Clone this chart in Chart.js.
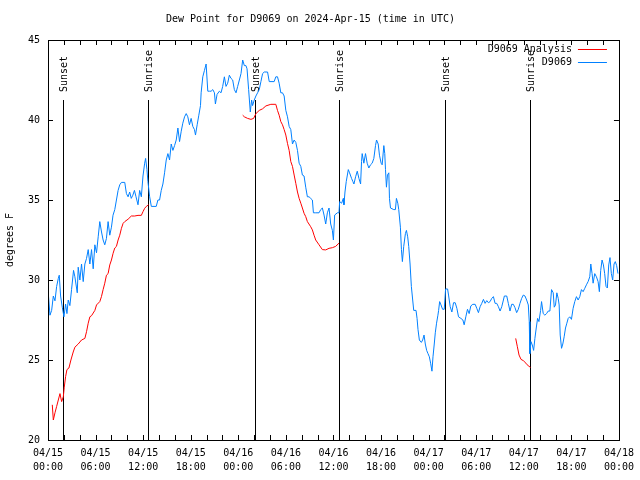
<!DOCTYPE html>
<html>
<head>
<meta charset="utf-8">
<script src="https://cdn.jsdelivr.net/npm/chart.js@4.4.1/dist/chart.umd.min.js"></script>
<style>
  html, body { margin: 0; padding: 0; background: #fff; }
  canvas { display: block; }
</style>
</head>
<body>
<canvas id="dew" width="640" height="480"></canvas>
<script>
// hours since 04/15 00:00 UTC
const blueHours = [
  0.0, 0.25, 0.46, 0.67, 0.88, 1.09, 1.30, 1.42, 1.59, 1.80, 2.01, 2.22, 2.39, 2.55, 2.76, 2.97,
  3.22, 3.39, 3.69, 3.81, 4.02, 4.23, 4.44, 4.65, 4.86, 5.07, 5.28, 5.49, 5.70, 5.91, 6.12, 6.33,
  6.53, 6.75, 6.95, 7.16, 7.37, 7.58, 7.79, 8.00, 8.20, 8.42, 8.63, 8.84, 9.05, 9.26, 9.68, 9.89,
  10.1, 10.3, 10.5, 10.7, 10.9, 11.1, 11.35, 11.56, 11.77, 11.98, 12.19, 12.31, 12.48, 12.6, 12.82,
  13.03, 13.65, 13.86, 14.07, 14.28, 14.49, 14.70, 14.91, 15.12, 15.33, 15.54, 15.75, 15.96, 16.17,
  16.38, 16.59, 16.80, 17.0, 17.22, 17.43, 17.63, 17.84, 18.05, 18.26, 18.47, 18.6, 18.81, 19.02,
  19.23, 19.31, 19.52, 19.73, 19.94, 20.15, 20.36, 20.57, 20.78, 20.99, 21.11, 21.32, 21.61, 21.82,
  22.03, 22.24, 22.45, 22.66, 22.87, 23.08, 23.29, 23.5, 23.71, 23.92, 24.13, 24.34, 24.55, 24.76,
  24.96, 25.1, 25.3, 25.51, 25.68, 25.8, 26.01, 26.22, 26.43, 26.64, 26.85, 27.06, 27.27, 27.69,
  27.9, 28.52, 28.73, 28.94, 29.15, 29.36, 29.57, 29.78, 29.99, 30.2, 30.41, 30.62, 30.83, 31.04,
  31.25, 31.46, 31.67, 31.88, 32.08, 32.29, 32.5, 32.71, 32.92, 33.13, 33.34, 33.47, 33.76, 34.18,
  34.39, 34.6, 34.81, 35.02, 35.23, 35.44, 35.65, 35.86, 35.99, 36.15, 36.49, 36.69, 36.78, 37.03,
  37.24, 37.32, 37.45, 37.61, 37.87, 38.03, 38.28, 38.45, 38.58, 38.79, 39.0, 39.21, 39.42, 39.54,
  39.62, 39.83, 40.04, 40.25, 40.46, 40.67, 40.88, 41.09, 41.3, 41.43, 41.64, 41.8, 42.01, 42.14,
  42.35, 42.47, 42.56, 42.68, 42.81, 42.98, 43.06, 43.19, 43.6, 43.81, 43.94, 44.11, 44.23, 44.44,
  44.57, 44.69, 44.86, 45.07, 45.2, 45.36, 45.49, 45.66, 45.82, 45.99, 46.12, 46.41, 46.54, 46.66,
  46.83, 47.08, 47.25, 47.42, 47.58, 47.75, 47.92, 48.09, 48.25, 48.42, 48.55, 48.71, 48.84, 49.0,
  49.17, 49.26, 49.39, 49.56, 49.76, 49.97, 50.14, 50.39, 50.51, 50.72, 50.93, 51.14, 51.35, 51.56,
  51.77, 52.07, 52.32, 52.48, 52.69, 52.9, 53.11, 53.32, 53.57, 53.87, 54.07, 54.28, 54.49, 54.7,
  54.91, 55.12, 55.33, 55.54, 55.75, 55.96, 56.17, 56.38, 56.59, 56.8, 57.01, 57.22, 57.43, 57.55,
  57.85, 58.05, 58.26, 58.47, 58.68, 58.89, 59.1, 59.31, 59.52, 59.73, 59.94, 60.15, 60.36, 60.57,
  60.69, 60.75, 60.78, 60.9, 61.07, 61.24, 61.4, 61.57, 61.74, 61.91, 62.12, 62.24, 62.45, 62.66,
  62.87, 63.08, 63.29, 63.5, 63.71, 63.84, 64.0, 64.17, 64.34, 64.46, 64.59, 64.76, 64.92, 65.09,
  65.26, 65.43, 65.6, 65.8, 66.01, 66.22, 66.43, 66.64, 66.85, 67.06, 67.27, 67.48, 67.69, 67.9,
  68.11, 68.32, 68.45, 68.61, 68.74, 68.95, 69.16, 69.37, 69.53, 69.7, 69.87, 70.04, 70.2, 70.37,
  70.54, 70.71, 70.87, 71.04, 71.21, 71.38, 71.54, 71.71, 71.88
];
const blueDew = [
  29.4, 27.8, 28.1, 29.0, 28.7, 29.6, 30.1, 30.3, 29.0, 28.3, 27.7, 28.5, 27.9, 28.75, 28.4, 29.4,
  30.6, 30.2, 29.2, 30.8, 30.0, 31.0, 29.9, 31.0, 31.35, 31.9, 31.0, 31.9, 30.7, 32.2, 31.7, 32.7,
  33.65, 33.0, 32.5, 32.2, 32.6, 33.65, 32.8, 33.3, 34.05, 34.4, 35.0, 35.6, 35.95, 36.1, 36.1, 35.4,
  35.2, 35.5, 35.1, 35.3, 35.6, 35.2, 34.7, 35.6, 35.2, 36.5, 37.3, 37.6, 36.9, 36.15, 35.2,
  34.6, 34.6, 35.0, 35.0, 35.6, 36.0, 36.7, 37.5, 37.9, 37.5, 38.5, 38.1, 38.4, 38.75,
  39.5, 38.65, 39.3, 39.8, 40.2, 40.4, 40.2, 39.7, 40.1, 39.6, 39.4, 39.06, 39.7, 40.3,
  40.9, 41.7, 42.7, 43.1, 43.5, 41.8, 41.8, 41.8, 41.9, 41.7, 41.0, 41.6, 41.8, 41.7,
  42.1, 42.7, 42.1, 42.3, 42.8, 42.6, 42.5, 41.9, 41.7, 42.1, 42.5, 42.9, 43.75, 43.4,
  43.4, 43.2, 41.9, 40.5, 41.25, 40.9, 41.25, 41.5, 41.7, 41.9, 42.4, 42.9, 43.0, 43.0,
  42.4, 42.4, 42.7, 42.7, 42.3, 41.7, 41.7, 41.5, 40.6, 40.2, 39.6, 39.4, 38.5, 38.75,
  38.6, 38.1, 37.3, 37.1, 36.56, 36.5, 35.8, 35.2, 35.2, 35.1, 35.0, 34.2, 34.2, 34.2,
  34.4, 34.5, 34.06, 33.5, 34.2, 34.5, 33.5, 33.1, 32.5, 34.06, 34.2, 34.2, 34.9, 34.8,
  35.1, 34.7, 35.5, 36.15, 36.9, 36.7, 36.35, 36.15, 36.0, 36.45, 36.8, 36.35, 36.0, 37.4,
  37.9, 37.3, 37.9, 37.3, 37.0, 37.2, 37.3, 37.6, 38.4, 38.75, 38.5, 37.8, 37.3, 37.2,
  38.4, 37.9, 36.9, 35.8, 36.56, 36.7, 35.1, 34.5, 34.4, 34.4, 35.1, 34.8, 34.4, 33.3,
  31.9, 31.15, 32.1, 32.9, 33.1, 32.7, 32.1, 31.0, 29.6, 28.75, 28.1, 28.1, 27.6, 26.9,
  26.25, 26.1, 26.25, 26.56, 26.0, 25.6, 25.4, 25.2, 24.8, 24.3, 25.2, 26.0, 26.7, 27.3,
  27.8, 28.1, 28.65, 28.44, 28.17, 28.17, 29.44, 29.44, 29.06, 28.33, 28.0, 28.58, 28.58, 28.23,
  27.7, 27.6, 27.5, 27.2, 27.7, 28.17, 27.9, 28.38, 28.48, 28.48, 28.23, 27.96, 28.33, 28.54,
  28.79, 28.54, 28.71, 28.58, 28.65, 28.85, 28.96, 28.54, 28.54, 28.33, 28.06, 28.33, 28.75, 29.0,
  29.0, 28.54, 28.06, 28.48, 28.48, 28.27, 27.96, 28.17, 28.54, 28.85, 29.06, 29.0, 28.75, 28.44,
  27.4, 26.15, 25.4, 26.15, 25.94, 25.6, 26.35, 27.0, 27.6, 27.4, 28.1, 28.65, 27.9, 27.8,
  27.9, 28.06, 28.06, 29.4, 29.2, 28.3, 28.44, 29.2, 28.85, 28.44, 26.56, 25.73, 26.0, 26.45,
  27.0, 27.3, 27.6, 27.7, 27.54, 28.23, 28.65, 28.96, 28.75, 28.96, 29.4, 29.27, 29.48, 29.7,
  29.9, 30.2, 31.0, 30.4, 29.8, 30.4, 30.2, 29.9, 29.27, 30.6, 31.25, 30.94, 30.4, 29.6,
  29.5, 30.94, 31.4, 30.4, 30.0, 31.0, 31.15, 30.9, 30.4
];

// analysis series, null marks a gap between runs
const redHours = [
  0.54, 0.67, 0.88, 1.09, 1.3, 1.51, 1.72, 1.93, 2.05, 2.22, 2.39, 2.64, 2.89, 3.18, 3.39, 3.81,
  4.23, 4.65, 4.86, 5.07, 5.28, 5.49, 5.91, 6.12, 6.53, 6.74, 6.95, 7.16, 7.37, 7.58, 7.79, 8.0,
  8.21, 8.42, 8.63, 8.84, 9.05, 9.26, 9.47, 9.68, 10.1, 10.51, 10.93, 11.35, 11.77, 11.98, 12.19,
  12.4, 12.69,
  18,
  24.55, 24.76, 25.17, 25.59, 25.93, 26.22, 26.64, 27.06, 27.48, 28.1, 28.73, 28.94, 29.15, 29.36,
  29.57, 29.78, 29.99, 30.2, 30.41, 30.62, 30.83, 31.04, 31.25, 31.46, 31.67, 31.88, 32.08, 32.29,
  32.5, 32.71, 33.13, 33.34, 33.55, 33.76, 34.18, 34.6, 35.02, 35.44, 35.86, 36.27, 36.69,
  48,
  58.98, 59.19, 59.4, 59.65, 59.94, 60.27, 60.57, 60.86
];
const redDew = [
  22.2, 21.25, 21.7, 22.1, 22.5, 22.9, 22.4, 22.7, 23.3, 23.96, 24.4, 24.5, 25.0, 25.5, 25.8, 26.0,
  26.25, 26.35, 26.77, 27.3, 27.7, 27.77, 28.1, 28.44, 28.65, 28.96, 29.4, 29.8, 30.3, 30.4, 30.94, 31.25,
  31.67, 32.0, 32.1, 32.5, 32.8, 33.23, 33.54, 33.65, 33.8, 34.0, 34.0, 34.04, 34.04, 34.27, 34.48,
  34.6, 34.7,
  null,
  40.3, 40.2, 40.1, 40.04, 40.1, 40.4, 40.6, 40.7, 40.88, 40.98, 40.98, 40.6, 40.3, 39.9,
  39.7, 39.4, 39.06, 38.54, 38.1, 37.4, 37.1, 36.56, 36.04, 35.5, 35.1, 34.8, 34.5, 34.17,
  33.96, 33.65, 33.33, 33.13, 32.8, 32.5, 32.2, 31.9, 31.88, 31.98, 32.02, 32.1, 32.3,
  null,
  26.35, 25.83, 25.31, 25.04, 24.96, 24.8, 24.63, 24.54
];

const dayLabels = ['04/15', '04/16', '04/17', '04/18'];
const sunHours = [1.92, 12.6, 26.05, 36.73, 50.05, 60.73];
const sunLabels = ['Sunset', 'Sunrise', 'Sunset', 'Sunrise', 'Sunset', 'Sunrise'];

const FONT = "10px 'DejaVu Sans Mono'";

function pairs(xs, ys) {
  return xs.map((x, i) => ({ x: x, y: ys[i] }));
}

// gnuplot-like frame: box, inward ticks, sun lines, legend
const framePlugin = {
  id: 'frame',
  beforeDatasetsDraw(chart) {
    const ctx = chart.ctx, a = chart.chartArea, xs = chart.scales.x;
    ctx.save();
    ctx.strokeStyle = '#000';
    ctx.fillStyle = '#000';
    ctx.lineWidth = 1;
    ctx.font = FONT;
    sunHours.forEach((h, i) => {
      const px = Math.round(xs.getPixelForValue(h)) + 0.5;
      ctx.beginPath();
      ctx.moveTo(px, a.top + 60);
      ctx.lineTo(px, a.bottom);
      ctx.stroke();
      ctx.save();
      ctx.translate(px + 1, a.top + 52);
      ctx.rotate(-Math.PI / 2);
      ctx.textAlign = 'left';
      ctx.textBaseline = 'middle';
      ctx.fillText(sunLabels[i], 0, 0);
      ctx.restore();
    });
    ctx.restore();
  },
  afterDatasetsDraw(chart) {
    const ctx = chart.ctx, a = chart.chartArea;
    const xs = chart.scales.x, ys = chart.scales.y;
    ctx.save();
    ctx.strokeStyle = '#000';
    ctx.lineWidth = 1;
    ctx.beginPath();
    xs.ticks.forEach(t => {
      const px = Math.round(xs.getPixelForValue(t.value)) + 0.5;
      ctx.moveTo(px, a.bottom); ctx.lineTo(px, a.bottom - 5);
      ctx.moveTo(px, a.top); ctx.lineTo(px, a.top + 5);
    });
    ys.ticks.forEach(t => {
      const py = Math.round(ys.getPixelForValue(t.value)) + 0.5;
      ctx.moveTo(a.left, py); ctx.lineTo(a.left + 5, py);
      ctx.moveTo(a.right, py); ctx.lineTo(a.right - 5, py);
    });
    ctx.stroke();
    ctx.strokeRect(Math.round(a.left) + 0.5, Math.round(a.top) + 0.5,
      Math.round(a.right - a.left), Math.round(a.bottom - a.top));

    // legend, top right inside the box
    ctx.font = FONT;
    ctx.textAlign = 'right';
    ctx.textBaseline = 'middle';
    ctx.fillStyle = '#000';
    chart.data.datasets.forEach((ds, i) => {
      const y = Math.round(a.top + 9 + 13 * i) + 0.5;
      ctx.fillText(ds.label, a.right - 47, y);
      ctx.strokeStyle = ds.borderColor;
      ctx.beginPath();
      ctx.moveTo(a.right - 41, y);
      ctx.lineTo(a.right - 12, y);
      ctx.stroke();
    });
    ctx.restore();
  }
};

new Chart(document.getElementById('dew'), {
  type: 'line',
  data: {
    datasets: [
      {
        label: 'D9069 Analysis',
        data: pairs(redHours, redDew),
        borderColor: '#ff0000',
        borderWidth: 1,
        pointRadius: 0,
        spanGaps: false,
        tension: 0
      },
      {
        label: 'D9069',
        data: pairs(blueHours, blueDew),
        borderColor: '#0080ff',
        borderWidth: 1,
        pointRadius: 0,
        tension: 0
      }
    ]
  },
  options: {
    responsive: false,
    animation: false,
    devicePixelRatio: 1,
    events: [],
    layout: { padding: { left: 0, right: 19, top: 0, bottom: 0 } },
    plugins: {
      legend: { display: false },
      tooltip: { enabled: false },
      title: {
        display: true,
        text: 'Dew Point for D9069 on 2024-Apr-15 (time in UTC)',
        color: '#000',
        font: { family: 'DejaVu Sans Mono', size: 10, weight: 'normal', lineHeight: 1.2 },
        padding: { top: 13, bottom: 15 }
      }
    },
    scales: {
      x: {
        type: 'linear',
        min: 0,
        max: 72,
        grid: { display: false, drawTicks: false },
        border: { display: false },
        ticks: {
          stepSize: 2,
          autoSkip: false,
          maxRotation: 0,
          padding: 6,
          color: '#000',
          font: { family: 'DejaVu Sans Mono', size: 10, lineHeight: 1.4 },
          callback: v => {
            if (v % 6 !== 0) return '';
            const hh = String(v % 24).padStart(2, '0');
            return [dayLabels[Math.floor(v / 24)], hh + ':00'];
          }
        },
        afterFit: s => { s.height = 40; }
      },
      y: {
        min: 20,
        max: 45,
        grid: { display: false, drawTicks: false },
        border: { display: false },
        ticks: {
          stepSize: 5,
          padding: 8,
          color: '#000',
          font: { family: 'DejaVu Sans Mono', size: 10 }
        },
        title: {
          display: true,
          text: 'degrees F',
          color: '#000',
          font: { family: 'DejaVu Sans Mono', size: 10 },
          padding: { top: 4, bottom: 0 }
        },
        afterFit: s => { s.width = 48; }
      }
    }
  },
  plugins: [framePlugin]
});
</script>
</body>
</html>
